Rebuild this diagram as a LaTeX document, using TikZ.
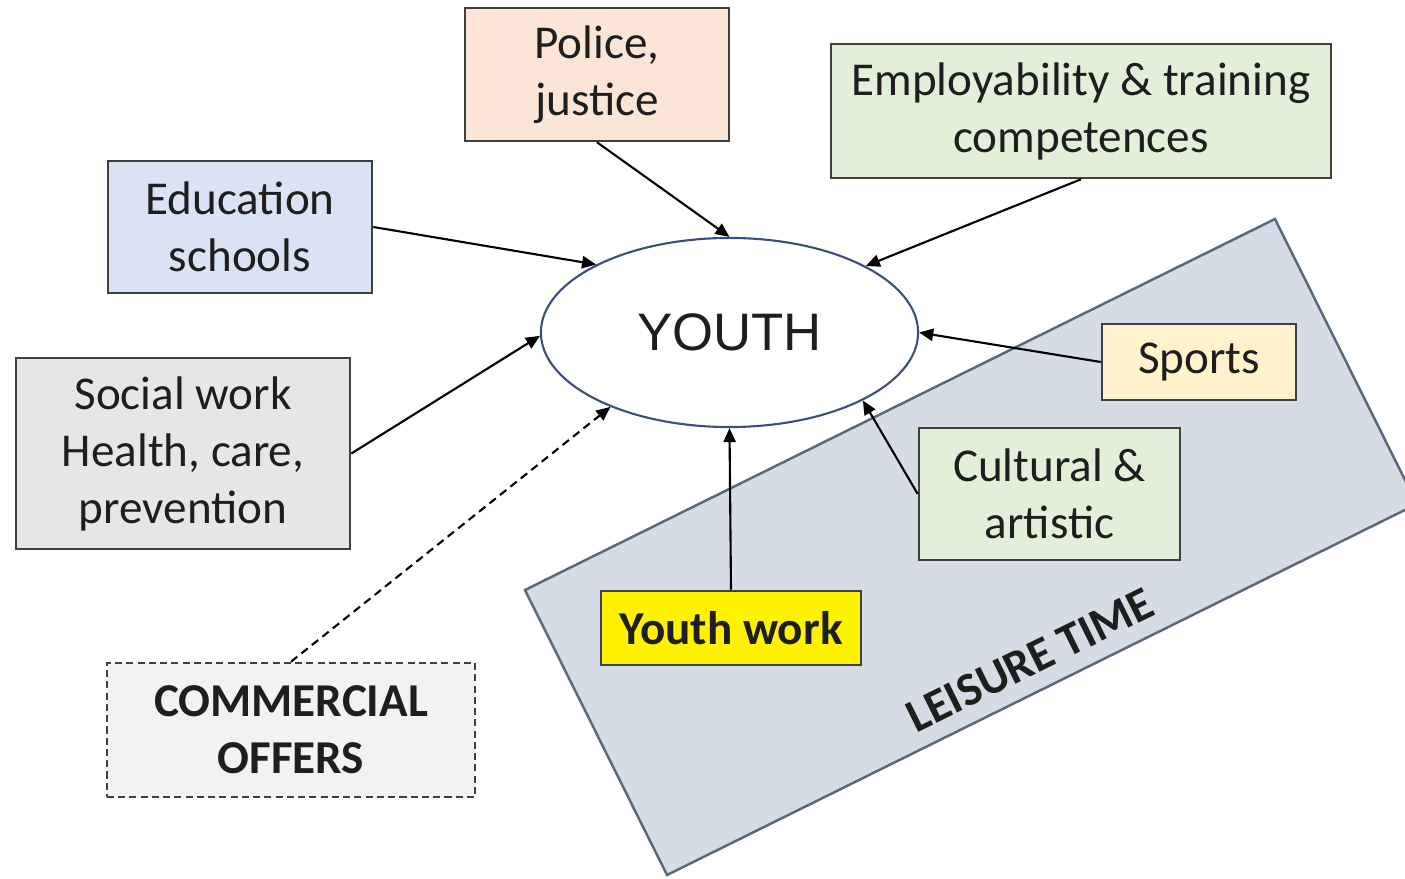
\documentclass[tikz,border=0pt]{standalone}
\usepackage{fontspec}
\setmainfont{Carlito}
\newfontfamily\youthfont{Liberation Sans}
\usepackage{tikz}
\usetikzlibrary{positioning, arrows.meta, shapes.geometric, calc}

\definecolor{boxline}{RGB}{64,64,64}
\definecolor{textdark}{RGB}{30,30,30}
\definecolor{policefill}{RGB}{251,229,214}
\definecolor{greenfill}{RGB}{226,240,217}
\definecolor{bluefill}{RGB}{218,227,243}
\definecolor{grayfill}{RGB}{231,230,230}
\definecolor{lightgrayfill}{RGB}{242,242,242}
\definecolor{sportsfill}{RGB}{255,242,204}
\definecolor{leisurefill}{RGB}{214,220,229}
\definecolor{leisureline}{RGB}{90,104,126}
\definecolor{ellipseline}{RGB}{60,78,125}

\begin{document}
\begin{tikzpicture}[x=0.01cm, y=-0.01cm,
    box/.style={draw=boxline, line width=0.7pt, align=center, inner sep=0pt,
        text=textdark, font=\fontsize{13.4}{16.2}\selectfont},
    feed/.style={-{Triangle[length=4pt, width=3.5pt]}, line width=0.6pt, black}]

    \useasboundingbox (0,0) rectangle (1405,879);

    % leisure time area
    \draw[fill=leisurefill, draw=leisureline, line width=0.7pt]
        (525,590) -- (1275,219) -- (1417,504) -- (667,875) -- cycle;
    \node[rotate=26.3, text=textdark, font=\fontsize{13.4}{16.2}\selectfont\bfseries]
        (leisure) at (1030,660) {LEISURE TIME};

    % centre
    \node[ellipse, draw=ellipseline, line width=0.6pt, fill=white,
        minimum width=3.77cm, minimum height=1.89cm, inner sep=0pt,
        text=textdark, font=\youthfont\fontsize{15}{18}\selectfont]
        (youth) at (729.5,332.5) {YOUTH};

    % surrounding boxes
    \node[box, fill=policefill, minimum width=2.64cm, minimum height=1.33cm]
        (police) at (597,74.5) {Police,\\justice};
    \node[box, fill=greenfill, minimum width=5.00cm, minimum height=1.34cm]
        (employ) at (1081,111) {Employability \& training\\competences};
    \node[box, fill=bluefill, minimum width=2.64cm, minimum height=1.32cm]
        (school) at (240,227) {Education\\schools};
    \node[box, fill=grayfill, minimum width=3.34cm, minimum height=1.91cm]
        (social) at (183,453.5) {Social work\\Health, care,\\prevention};
    \node[box, fill=lightgrayfill, dash pattern=on 2pt off 1.2pt,
        minimum width=3.68cm, minimum height=1.34cm, font=\fontsize{13.4}{16.2}\selectfont\bfseries]
        (commercial) at (291,730) {COMMERCIAL\\OFFERS};
    \node[box, fill=yellow, minimum width=2.60cm, minimum height=0.74cm,
        font=\fontsize{13.4}{16.2}\selectfont\bfseries]
        (youthwork) at (731,628) {Youth work};
    \node[box, fill=sportsfill, minimum width=1.94cm, minimum height=0.76cm]
        (sports) at (1199,362) {Sports};
    \node[box, fill=greenfill, minimum width=2.61cm, minimum height=1.32cm]
        (culture) at (1049.5,494) {Cultural \&\\artistic};

    % arrows into the centre
    \draw[feed] (police.south) -- (youth.90);
    \draw[feed] (employ.south) -- (youth.26);
    \draw[feed] (school.east) -- (youth.153.6);
    \draw[feed] (social.east) -- (youth.181);
    \draw[feed] (sports.west) -- (youth.0);
    \draw[feed] (culture.west) -- (youth.-27.4);
    \draw[feed] (youthwork.north) -- (youth.-90);
    \draw[feed, dash pattern=on 2.3pt off 1.5pt] (commercial.north) -- (youth.212);
\end{tikzpicture}
\end{document}
